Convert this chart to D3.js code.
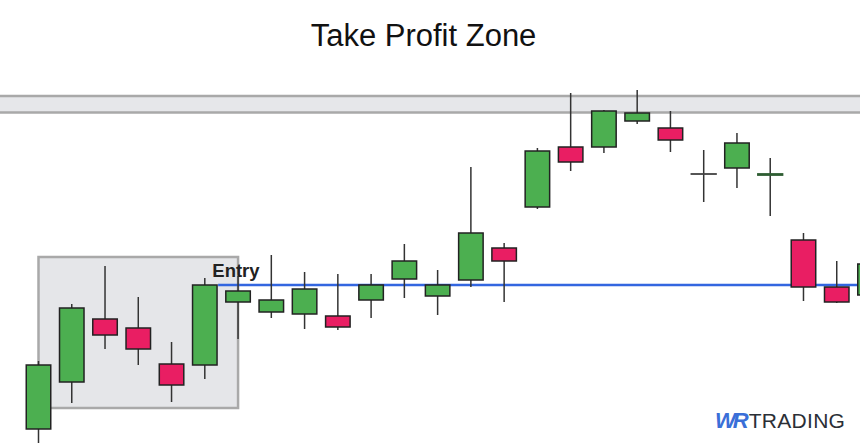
<!DOCTYPE html>
<html>
<head>
<meta charset="utf-8">
<script src="https://cdn.jsdelivr.net/npm/d3@7"></script>
<style>
  html, body { margin: 0; padding: 0; background: #fff; }
  svg { display: block; }
</style>
</head>
<body>
<svg id="chart" width="860" height="444"></svg>
<script>
// ---- data ----
const candleIndex = d3.range(26);
const opens  = [15, 62, 125, 116, 80, 79, 142, 132, 130, 128, 144, 165, 148, 164, 196, 237, 297, 297, 323, 316, 270, 276, 269, 204, 157, 149];
const highs  = [83, 140, 178, 147, 102, 166, 168, 189, 172, 170, 170, 200, 174, 277, 201, 296, 351, 334, 354, 333, 294, 311, 286, 211, 183, 190];
const lows   = [1, 41, 95, 79, 42, 65, 105, 126, 115, 114, 126, 146, 129, 157, 142, 235, 273, 291, 320, 292, 242, 256, 228, 143, 141, 140];
const closes = [79, 136, 109, 95, 59, 159, 153, 144, 155, 117, 159, 183, 159, 211, 183, 293, 282, 333, 331, 304, 270, 301, 270, 157, 142, 180];

const entryPrice = 159;
const entryFromIndex = 5.4;
const entryLabel = "Entry";
const consolidationIdx = [0, 6];
const consolidationPrices = [36, 187];
const takeProfitZone = [331.5, 348];
const titleText = "Take Profit Zone";
const brandParts = ["WR", "TRADING"];

// ---- scales ----
const W = 860, H = 444;
const x = d3.scaleLinear().domain([0, 25]).range([38.5, 870]);
const y = d3.scaleLinear().domain([0, 444]).range([444, 0]);

const svg = d3.select("#chart");
const green = "#4caf50", red = "#e91e63", edge = "#222";
const bodyW = 24.5;

// title
svg.append("text")
  .attr("x", 423.5).attr("y", 46)
  .attr("text-anchor", "middle")
  .attr("font-family", "Liberation Sans, Arial, sans-serif")
  .attr("font-size", 31)
  .attr("fill", "#111")
  .text(titleText);

// take profit zone band
svg.append("rect")
  .attr("x", -5).attr("width", W + 10)
  .attr("y", y(takeProfitZone[1]))
  .attr("height", y(takeProfitZone[0]) - y(takeProfitZone[1]))
  .attr("fill", "#e6e7ea")
  .attr("stroke", "#a9a9a9")
  .attr("stroke-width", 2.5);

// consolidation box
svg.append("rect")
  .attr("x", x(consolidationIdx[0]))
  .attr("width", x(consolidationIdx[1]) - x(consolidationIdx[0]))
  .attr("y", y(consolidationPrices[1]))
  .attr("height", y(consolidationPrices[0]) - y(consolidationPrices[1]))
  .attr("fill", "#e5e6e9")
  .attr("stroke", "#a9a9a9")
  .attr("stroke-width", 2.5);

// entry line (behind candles)
svg.append("line")
  .attr("x1", x(entryFromIndex)).attr("x2", W + 5)
  .attr("y1", y(entryPrice)).attr("y2", y(entryPrice))
  .attr("stroke", "#3366e0")
  .attr("stroke-width", 2.5);

// candles
const candles = candleIndex.map(i => ({i, o: opens[i], h: highs[i], l: lows[i], c: closes[i]}));
const g = svg.append("g");
g.selectAll("line.wick").data(candles).join("line")
  .attr("class", "wick")
  .attr("x1", d => x(d.i)).attr("x2", d => x(d.i))
  .attr("y1", d => y(d.h)).attr("y2", d => y(d.l))
  .attr("stroke", "#333").attr("stroke-width", 1.5);

g.selectAll("rect.body").data(candles).join("rect")
  .attr("class", "body")
  .attr("x", d => x(d.i) - bodyW / 2)
  .attr("width", bodyW)
  .attr("y", d => y(Math.max(d.o, d.c)))
  .attr("height", d => Math.max(0.01, Math.abs(y(d.o) - y(d.c))))
  .attr("fill", d => d.c >= d.o ? green : red)
  .attr("stroke", d => d.o === d.c ? "#444" : (d.c - d.o === 1 ? "#2e5d32" : edge))
  .attr("stroke-width", d => Math.abs(d.c - d.o) <= 1 ? 1.8 : 1.5);

svg.append("text")
  .attr("x", x(5) + 7.5).attr("y", y(entryPrice) - 8.5)
  .attr("font-family", "Liberation Sans, Arial, sans-serif")
  .attr("font-weight", "bold")
  .attr("font-size", 18.5)
  .attr("fill", "#222")
  .text(entryLabel);

// brand watermark
const brand = svg.append("text")
  .attr("x", 715).attr("y", 428)
  .attr("font-family", "Liberation Sans, Arial, sans-serif")
  .attr("font-size", 21);
brand.append("tspan")
  .attr("font-weight", 900)
  .attr("font-style", "italic")
  .attr("font-size", 22)
  .attr("letter-spacing", -3)
  .attr("fill", "#3a6fd8")
  .text(brandParts[0]);
brand.append("tspan")
  .attr("dx", 3)
  .attr("fill", "#2b2f36")
  .attr("letter-spacing", 0.3)
  .text(brandParts[1]);
</script>
</body>
</html>
